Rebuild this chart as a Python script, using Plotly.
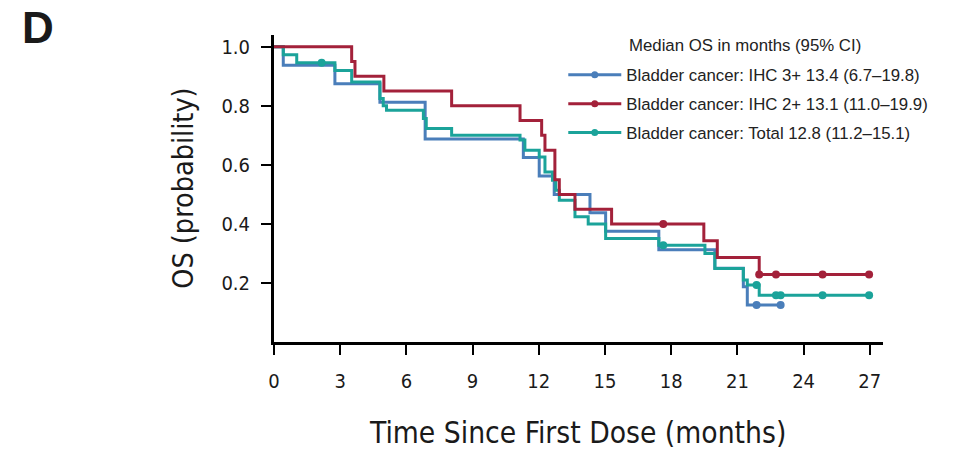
import plotly.graph_objects as go

# Kaplan-Meier step points (months, survival probability) per cohort
ihc3_time = [0, 0.42, 2.76, 4.8, 6.85, 11.3, 12.02, 12.7, 14.32, 15.03, 17.44, 19.98, 21.27, 21.45, 22.96]
ihc3_surv = [1.0, 0.9375, 0.875, 0.8125, 0.6875, 0.625, 0.5625, 0.5, 0.4375, 0.375, 0.3125, 0.25, 0.1875, 0.125, 0.125]
ihc3_cens_time = [21.87, 22.96]
ihc3_cens_surv = [0.125, 0.125]

ihc2_time = [0, 3.52, 3.67, 4.98, 8.05, 11.15, 12.13, 12.28, 12.73, 12.93, 13.64, 15.3, 19.48, 20.09, 21.99, 26.97]
ihc2_surv = [1.0, 0.95, 0.9, 0.85, 0.8, 0.75, 0.70, 0.65, 0.55, 0.5, 0.45, 0.40, 0.343, 0.286, 0.229, 0.229]
ihc2_cens_time = [17.64, 21.99, 22.75, 24.86, 26.97]
ihc2_cens_surv = [0.40, 0.229, 0.229, 0.229, 0.229]

total_time = [0, 0.42, 1.03, 2.76, 3.52, 4.8, 4.95, 5.1, 6.77, 6.9, 8.05, 11.15, 11.37, 12.02, 12.28,
              12.62, 12.77, 12.93, 13.64, 14.24, 15.03, 17.44, 19.53, 19.98, 21.27, 21.45, 21.99, 26.97]
total_surv = [1.0, 0.973, 0.946, 0.92, 0.881, 0.825, 0.80, 0.785, 0.757, 0.723, 0.70, 0.684, 0.65, 0.627, 0.576,
              0.548, 0.514, 0.48, 0.424, 0.40, 0.351, 0.328, 0.30, 0.249, 0.21, 0.193, 0.158, 0.158]
total_cens_time = [2.16, 17.64, 21.87, 22.75, 22.96, 24.86, 26.97]
total_cens_surv = [0.946, 0.328, 0.193, 0.158, 0.158, 0.158, 0.158]

legend_labels = [
    "Bladder cancer: IHC 3+ 13.4 (6.7\u201319.8)",
    "Bladder cancer: IHC 2+ 13.1 (11.0\u201319.9)",
    "Bladder cancer: Total 12.8 (11.2\u201315.1)",
]
x_ticks = [0, 3, 6, 9, 12, 15, 18, 21, 24, 27]
y_ticks = [0.2, 0.4, 0.6, 0.8, 1.0]

BLUE = "#4a7eba"
RED = "#a3213a"
TEAL = "#1ba39a"

series = [
    (ihc3_time, ihc3_surv, ihc3_cens_time, ihc3_cens_surv, BLUE),
    (total_time, total_surv, total_cens_time, total_cens_surv, TEAL),
    (ihc2_time, ihc2_surv, ihc2_cens_time, ihc2_cens_surv, RED),
]

fig = go.Figure()

for t, s, ct, cs, col in series:
    fig.add_trace(go.Scatter(x=t, y=s, mode="lines", line=dict(color=col, width=3, shape="hv"),
                             showlegend=False, hoverinfo="skip"))
    fig.add_trace(go.Scatter(x=ct, y=cs, mode="markers", marker=dict(color=col, size=8),
                             showlegend=False, hoverinfo="skip"))

# legend entries (line with a censor dot)
for i, (lab, col) in enumerate(zip(legend_labels, [BLUE, RED, TEAL])):
    fig.add_trace(go.Scatter(x=[None], y=[None], mode="lines+markers", name=lab,
                             legendgroup=f"g{i}",
                             line=dict(color=col, width=3), marker=dict(color=col, size=7)))

COND = "DejaVu Sans Condensed, Liberation Sans Narrow, Liberation Sans, Arial"
axis_font = dict(family=COND, size=20, color="#1a1a1a")
legend_font = dict(family="Liberation Sans, Arial", size=16.8, color="#222222")

fig.update_layout(
    width=954, height=449,
    margin=dict(l=274, r=71, t=35, b=107),
    paper_bgcolor="white", plot_bgcolor="white",
    showlegend=True,
    legend=dict(x=0.475, y=0.927, xanchor="left", yanchor="top",
                font=legend_font, tracegroupgap=4, itemwidth=53, bgcolor="rgba(0,0,0,0)"),
    xaxis=dict(range=[0, 27.6], tickvals=x_ticks, ticks="outside", ticklen=10, tickwidth=2,
               tickcolor="black", showline=True, linecolor="black", linewidth=3,
               showgrid=False, zeroline=False, tickfont=axis_font, ticklabelstandoff=9),
    yaxis=dict(range=[0, 1.04], tickvals=y_ticks, tickformat=".1f", ticks="outside", ticklen=10,
               tickwidth=2, tickcolor="black", showline=True, linecolor="black", linewidth=3,
               showgrid=False, zeroline=False, tickfont=axis_font, ticklabelstandoff=7),
)

fig.add_annotation(text="OS (probability)", xref="paper", yref="paper", x=-0.149, y=0.5,
                   textangle=-90, showarrow=False, font=dict(family=COND, size=28.5, color="#1a1a1a"),
                   xanchor="center", yanchor="middle")
fig.add_annotation(text="Time Since First Dose (months)", xref="paper", yref="paper", x=0.499, y=-0.295,
                   showarrow=False, font=dict(family=COND, size=29.7, color="#1a1a1a"),
                   xanchor="center", yanchor="middle")
fig.add_annotation(text="Median OS in months (95% CI)", xref="paper", yref="paper", x=0.58, y=0.967,
                   showarrow=False, xanchor="left", yanchor="middle", font=legend_font)
fig.add_annotation(text="<b>D</b>", xref="paper", yref="paper", x=-0.417, y=1.024,
                   showarrow=False, xanchor="left", yanchor="middle",
                   font=dict(family="Liberation Sans, Arial", size=44, color="#1a1a1a"))

fig.write_html("out.html")
